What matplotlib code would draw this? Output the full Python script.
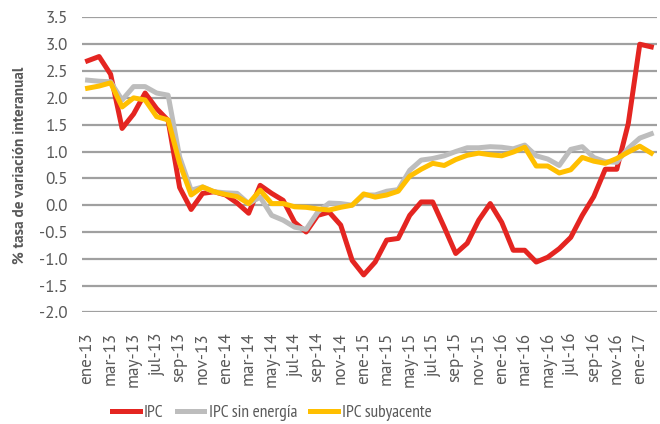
import matplotlib.pyplot as plt

plt.rcParams['font.family'] = ['PT Sans', 'DejaVu Sans']
legend_font = ['PT Sans Narrow', 'DejaVu Sans']

months = ["ene", "feb", "mar", "abr", "may", "jun", "jul", "ago", "sep", "oct", "nov", "dic"]
periods = [m + "-" + str(y) for y in range(13, 18) for m in months][:50]

ipc = [2.69, 2.77, 2.44, 1.43, 1.70, 2.09, 1.80, 1.58, 0.33, -0.08, 0.22, 0.25,
       0.19, 0.04, -0.15, 0.37, 0.22, 0.09, -0.32, -0.50, -0.19, -0.13, -0.37, -1.03,
       -1.30, -1.06, -0.65, -0.62, -0.19, 0.06, 0.06, -0.41, -0.90, -0.71, -0.28, 0.03,
       -0.32, -0.84, -0.84, -1.06, -0.97, -0.81, -0.60, -0.19, 0.16, 0.67, 0.67, 1.52,
       3.00, 2.95]
ipc_sin_energia = [2.33, 2.31, 2.30, 1.96, 2.21, 2.21, 2.09, 2.05, 0.90, 0.28, 0.34, 0.25,
                   0.23, 0.22, 0.03, 0.15, -0.19, -0.28, -0.41, -0.45, -0.13, 0.04, 0.03, 0.00,
                   0.19, 0.19, 0.26, 0.29, 0.65, 0.84, 0.87, 0.92, 1.00, 1.07, 1.07, 1.09,
                   1.08, 1.05, 1.12, 0.92, 0.86, 0.74, 1.04, 1.09, 0.89, 0.81, 0.80, 1.06,
                   1.25, 1.33]
ipc_subyacente = [2.18, 2.22, 2.28, 1.83, 2.00, 1.96, 1.65, 1.59, 0.78, 0.19, 0.34, 0.25,
                  0.20, 0.16, 0.03, 0.28, 0.03, 0.03, -0.03, -0.04, -0.07, -0.09, -0.04, 0.00,
                  0.21, 0.15, 0.19, 0.26, 0.54, 0.67, 0.78, 0.74, 0.85, 0.93, 0.97, 0.94,
                  0.92, 0.99, 1.08, 0.73, 0.73, 0.60, 0.66, 0.89, 0.82, 0.78, 0.87, 0.99,
                  1.10, 0.97]

x = list(range(len(periods)))
gray_txt = "#595959"

fig = plt.figure(figsize=(6.6, 4.24), dpi=100)
ax = fig.add_axes([0.124, 0.263, 0.8715, 0.696])

ax.plot(x, ipc, color="#E42521", lw=3.6, label="IPC", zorder=3)
ax.plot(x, ipc_sin_energia, color="#BDBDBD", lw=3.6, label="IPC sin energía", zorder=4)
ax.plot(x, ipc_subyacente, color="#FFBF00", lw=3.6, label="IPC subyacente", zorder=5)

ax.set_ylim(-2.0, 3.5)
ax.set_xlim(-0.5, len(periods) - 0.5)
yt = [-2.0 + 0.5 * k for k in range(12)]
ax.set_yticks(yt)
ax.set_yticklabels([f"{v:.1f}" for v in yt])
ax.yaxis.grid(True, color="#A0A0A0", lw=1.6)
ax.set_axisbelow(True)
ax.set_xticks(x[::2])
ax.set_xticklabels(periods[::2], rotation=90)
ax.tick_params(axis="both", length=0, colors=gray_txt, labelsize=12.3)
ax.tick_params(axis="y", pad=10)
ax.tick_params(axis="x", pad=14)
for s in ax.spines.values():
    s.set_visible(False)

ax.set_ylabel("% tasa de variación interanual", fontsize=11, fontweight="bold",
              color=gray_txt, labelpad=9)

fig.legend(loc="center", bbox_to_anchor=(272 / 660, 1 - 413 / 424), ncol=3, frameon=False,
           prop={"family": legend_font, "size": 12.5}, handlelength=1.6,
           handletextpad=0.25, columnspacing=0.75, labelcolor=gray_txt)

fig.savefig("out.png", dpi=100)
